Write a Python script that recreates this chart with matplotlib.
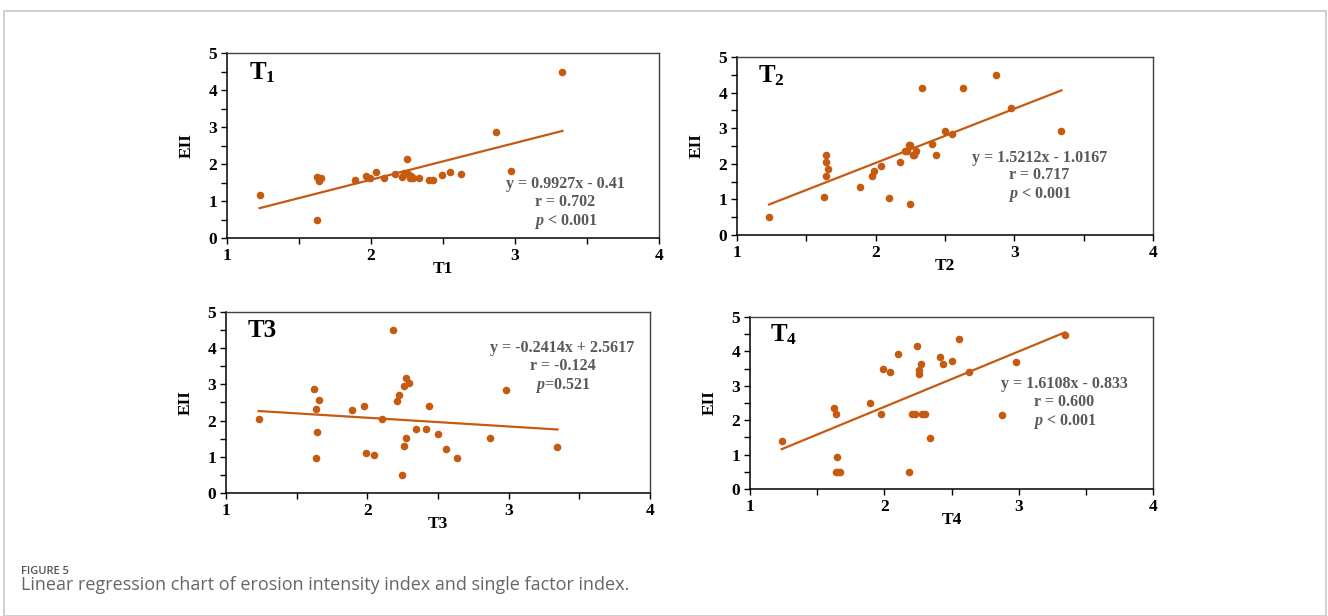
import numpy as np
import matplotlib
matplotlib.use('Agg')
import matplotlib.pyplot as plt
from matplotlib.ticker import MultipleLocator, FuncFormatter

plt.rcParams['font.family'] = ['Liberation Serif', 'DejaVu Serif']
plt.rcParams['mathtext.fontset'] = 'custom'
plt.rcParams['mathtext.rm'] = 'Liberation Serif:bold'
plt.rcParams['mathtext.bf'] = 'Liberation Serif:bold'
plt.rcParams['mathtext.it'] = 'Liberation Serif:italic:bold'

# panel data
t1_x = [1.227, 1.623, 1.628, 1.64, 1.653, 1.887, 1.966, 1.99, 2.038, 2.09, 2.17, 2.216, 2.228,
        2.25, 2.255, 2.27, 2.28, 2.29, 2.334, 2.404, 2.43, 2.496, 2.547, 2.626, 2.867, 2.974, 3.33]
t1_y = [1.15, 0.50, 1.65, 1.53, 1.63, 1.56, 1.68, 1.63, 1.78, 1.63, 1.72, 1.65, 1.76,
        2.13, 1.72, 1.63, 1.68, 1.63, 1.63, 1.56, 1.57, 1.70, 1.78, 1.74, 2.87, 1.80, 4.49]

t2_x = [1.231, 1.625, 1.639, 1.639, 1.644, 1.659, 1.889, 1.976, 1.988, 2.038, 2.099, 2.173, 2.209,
        2.226, 2.24, 2.25, 2.25, 2.267, 2.276, 2.293, 2.337, 2.409, 2.433, 2.5, 2.55, 2.627,
        2.868, 2.976, 3.339]
t2_y = [0.50, 1.07, 1.67, 2.05, 2.25, 1.85, 1.35, 1.67, 1.79, 1.94, 1.05, 2.05, 2.36,
        2.36, 2.53, 2.53, 0.87, 2.26, 2.26, 2.36, 4.13, 2.55, 2.25, 2.93, 2.85, 4.13,
        4.48, 3.58, 2.93]

t3_x = [1.231, 1.625, 1.639, 1.66, 1.646, 1.639, 1.893, 1.978, 1.99, 2.044, 2.10, 2.178, 2.211,
        2.223, 2.244, 2.256, 2.256, 2.27, 2.275, 2.296, 2.341, 2.414, 2.438, 2.501, 2.553,
        2.631, 2.871, 2.982, 3.345]
t3_y = [2.05, 2.88, 2.33, 2.56, 1.68, 0.97, 2.30, 2.40, 1.10, 1.04, 2.05, 4.50, 2.53,
        2.72, 0.49, 1.30, 2.96, 1.52, 3.17, 3.03, 1.77, 1.77, 2.40, 1.62, 1.22,
        0.97, 1.52, 2.84, 1.28]

t4_x = [1.236, 1.627, 1.642, 1.65, 1.637, 1.652, 1.667, 1.895, 1.977, 1.992, 2.044, 2.103, 2.18,
        2.208, 2.227, 2.245, 2.257, 2.257, 2.27, 2.277, 2.302, 2.341, 2.413, 2.438, 2.503,
        2.555, 2.632, 2.872, 2.981, 3.343]
t4_y = [1.39, 2.35, 2.17, 0.92, 0.49, 0.49, 0.49, 2.50, 2.17, 3.49, 3.40, 3.93, 0.49,
        2.17, 2.17, 4.15, 3.45, 3.35, 3.63, 2.17, 2.17, 1.47, 3.83, 3.63, 3.73,
        4.35, 3.40, 2.14, 3.70, 4.48]

# fitted lines as printed on the chart
slopes = [0.9927, 1.5212, -0.2414, 1.6108]
intercepts = [-0.41, -1.0167, 2.5617, -0.833]
eq_texts = ['y = 0.9927x - 0.41\nr = 0.702\n$p$ < 0.001',
            'y = 1.5212x - 1.0167\nr = 0.717\n$p$ < 0.001',
            'y = -0.2414x + 2.5617\nr = -0.124\n$p$=0.521',
            'y = 1.6108x - 0.833\nr = 0.600\n$p$ < 0.001']
panel_names = [r'$\mathbf{T_1}$', r'$\mathbf{T_2}$', 'T3', r'$\mathbf{T_4}$']
xlabels = ['T1', 'T2', 'T3', 'T4']
eq_pos = [(3.35, 0.93), (3.18, 1.63), (3.38, 3.47), (3.34, 2.49)]

xs = [t1_x, t2_x, t3_x, t4_x]
ys = [t1_y, t2_y, t3_y, t4_y]

boxes = [[0.1709, 0.6136, 0.3253, 0.3003],
         [0.5550, 0.6185, 0.3133, 0.2890],
         [0.1702, 0.1997, 0.3193, 0.2938],
         [0.5648, 0.2062, 0.3035, 0.2792]]

dot = '#C55A11'
fig = plt.figure(figsize=(13.28, 6.16), dpi=100)

# outer frame of the page
fig.add_artist(plt.Rectangle((4 / 1328, 0), 1322 / 1328, 1 - 11 / 616, transform=fig.transFigure,
                             fill=False, edgecolor='#c8c8c8', linewidth=1.2))

int_fmt = FuncFormatter(lambda v, p: '%d' % v if abs(v - round(v)) < 1e-6 else '')

for i in range(4):
    ax = fig.add_axes(boxes[i])
    x = np.array(xs[i])
    ax.scatter(x, ys[i], s=30, color=dot, zorder=3, linewidths=0)
    lx = np.array([x.min(), x.max()])
    ax.plot(lx, slopes[i] * lx + intercepts[i], color=dot, lw=1.6, zorder=2)
    ax.set_xlim(1, 4)
    ax.set_ylim(0, 5)
    ax.xaxis.set_major_locator(MultipleLocator(0.5))
    ax.yaxis.set_major_locator(MultipleLocator(0.5))
    ax.xaxis.set_major_formatter(int_fmt)
    ax.yaxis.set_major_formatter(int_fmt)
    ax.tick_params(direction='out', length=4, width=1, color='black', labelsize=12.5, pad=3)
    for lab in ax.get_xticklabels() + ax.get_yticklabels():
        lab.set_fontweight('bold')
    for s in ['top', 'right']:
        ax.spines[s].set_color('#404040')
        ax.spines[s].set_linewidth(1)
    for s in ['left', 'bottom']:
        ax.spines[s].set_color('black')
        ax.spines[s].set_linewidth(1.1)
    ax.set_xlabel(xlabels[i], fontsize=12.5, fontweight='bold', labelpad=-2)
    ax.set_ylabel('EII', fontsize=12.5, fontweight='bold', labelpad=10)
    ax.text(1.15, 4.48, panel_names[i], fontsize=18, fontweight='bold', va='center', ha='left')
    ax.text(eq_pos[i][0], eq_pos[i][1], eq_texts[i], fontsize=11.5, fontweight='bold', color='#595959',
            ha='center', va='center', linespacing=1.15, multialignment='center')

fig.text(21 / 1328, 1 - 571 / 616, 'FIGURE 5', fontsize=8, color='#555555', fontweight='semibold',
         family=['Open Sans', 'DejaVu Sans'], va='center')
fig.text(21 / 1328, 1 - 585 / 616, 'Linear regression chart of erosion intensity index and single factor index.',
         fontsize=13, color='#666666', family=['Open Sans', 'DejaVu Sans'], va='center')

fig.savefig('out.png', dpi=100)
